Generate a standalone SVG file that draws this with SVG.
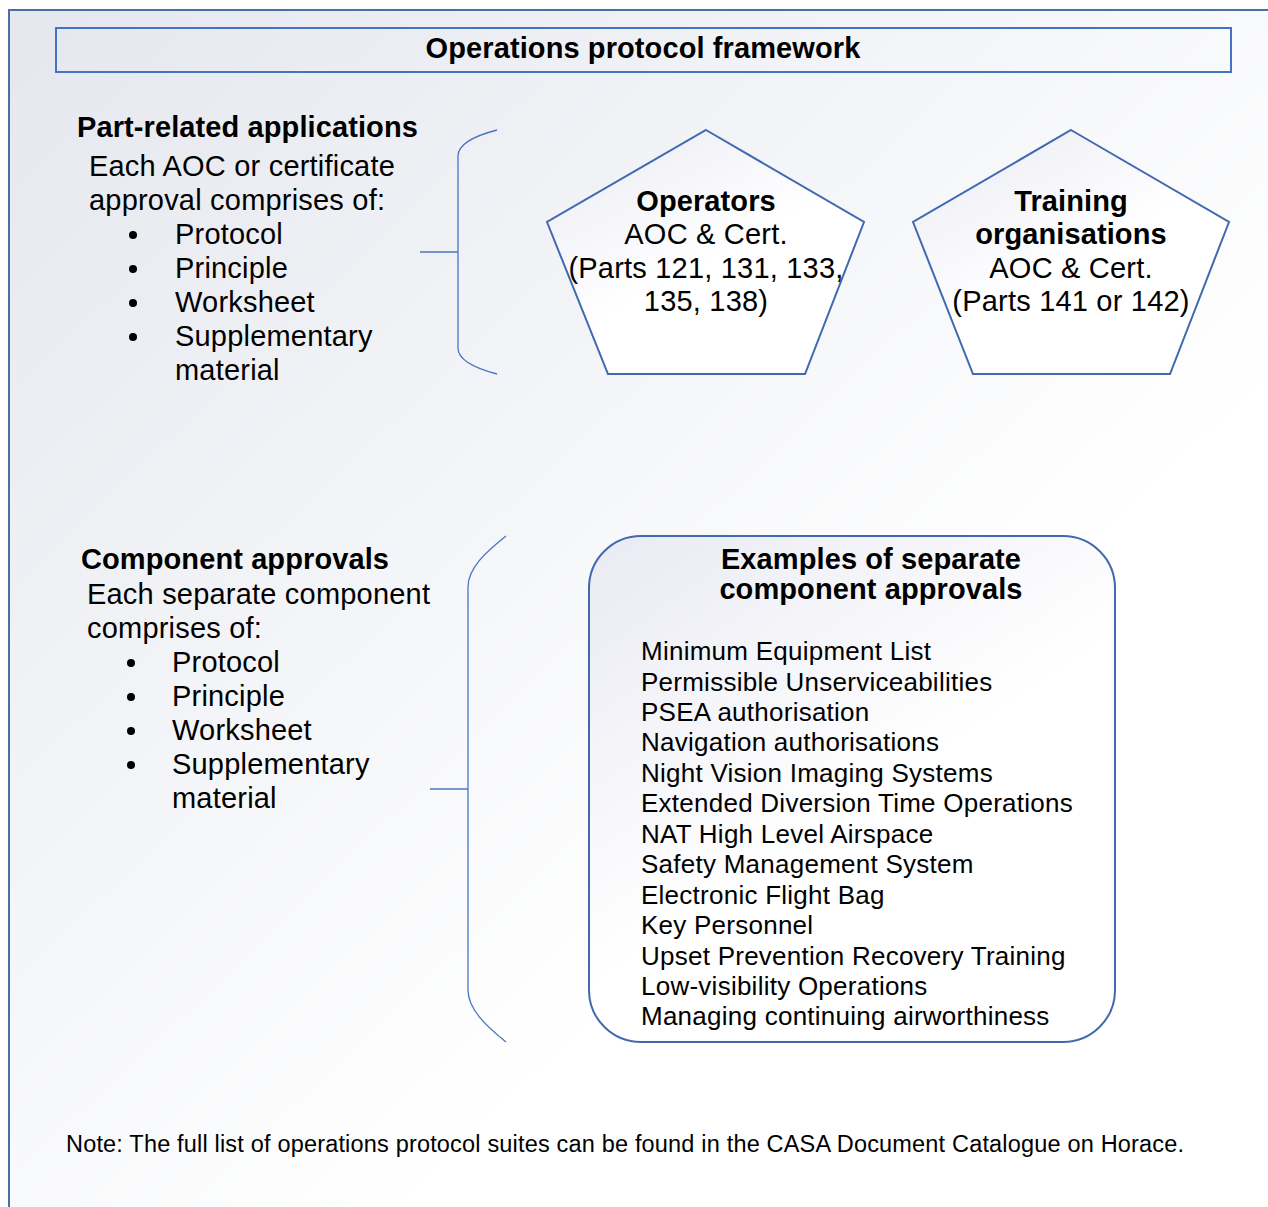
<svg xmlns="http://www.w3.org/2000/svg" width="1268" height="1207" viewBox="0 0 1268 1207">
  <defs>
    <linearGradient id="bg" x1="0" y1="0" x2="0.65" y2="0.65">
      <stop offset="0" stop-color="#e4e7ee"/>
      <stop offset="1" stop-color="#ffffff"/>
    </linearGradient>
    <linearGradient id="shapeFill" x1="0" y1="0" x2="0.7" y2="1">
      <stop offset="0" stop-color="#e9eaf3"/>
      <stop offset="0.6" stop-color="#ffffff"/>
    </linearGradient>
    <style>
      text { font-family: "Liberation Sans", Arial, sans-serif; fill: #000; }
      .h { font-size: 29px; font-weight: bold; letter-spacing: 0.1px; }
      .b { font-size: 29px; letter-spacing: 0.2px; }
      .c { text-anchor: middle; }
      .li { font-size: 26px; letter-spacing: 0.25px; }
      .note { font-size: 23.5px; letter-spacing: 0.18px; }
      .shape { fill: url(#shapeFill); stroke: #4169b0; stroke-width: 2; }
      .brace { fill: none; stroke: #4a74c4; stroke-width: 1.3; }
      .dot { fill: #000; }
    </style>
  </defs>

  <!-- page frame -->
  <rect x="0" y="0" width="1268" height="1207" fill="#ffffff"/>
  <rect x="9" y="10" width="1270" height="1210" fill="url(#bg)" stroke="#4a6fa5" stroke-width="2"/>

  <!-- title bar -->
  <g id="title">
    <rect x="56" y="28" width="1175" height="44" fill="none" stroke="#4472c4" stroke-width="2"/>
    <text class="h c" x="643" y="58">Operations protocol framework</text>
  </g>

  <!-- part-related applications -->
  <g id="part-related">
    <text class="h" x="77" y="137">Part-related applications</text>
    <text class="b" x="89" y="176">Each AOC or certificate</text>
    <text class="b" x="89" y="210">approval comprises of:</text>
    <circle class="dot" cx="133" cy="235" r="4"/>
    <circle class="dot" cx="133" cy="269" r="4"/>
    <circle class="dot" cx="133" cy="303" r="4"/>
    <circle class="dot" cx="133" cy="337" r="4"/>
    <text class="b" x="175" y="244">Protocol</text>
    <text class="b" x="175" y="278">Principle</text>
    <text class="b" x="175" y="312">Worksheet</text>
    <text class="b" x="175" y="346">Supplementary</text>
    <text class="b" x="175" y="380">material</text>
  </g>

  <!-- operators -->
  <g id="operators">
    <polygon class="shape" points="706,130 864,222 805,374 608,374 547,222"/>
    <text class="h c" x="706" y="211">Operators</text>
    <text class="b c" x="706" y="244">AOC &amp; Cert.</text>
    <text class="b c" x="706" y="278">(Parts 121, 131, 133,</text>
    <text class="b c" x="706" y="311">135, 138)</text>
  </g>

  <!-- training organisations -->
  <g id="training">
    <polygon class="shape" points="1071,130 1229,222 1170,374 973,374 913,222"/>
    <text class="h c" x="1071" y="211">Training</text>
    <text class="h c" x="1071" y="244">organisations</text>
    <text class="b c" x="1071" y="278">AOC &amp; Cert.</text>
    <text class="b c" x="1071" y="311">(Parts 141 or 142)</text>
  </g>

  <!-- component approvals -->
  <g id="component">
    <text class="h" x="81" y="569">Component approvals</text>
    <text class="b" x="87" y="604">Each separate component</text>
    <text class="b" x="87" y="638">comprises of:</text>
    <circle class="dot" cx="131" cy="663" r="4"/>
    <circle class="dot" cx="131" cy="697" r="4"/>
    <circle class="dot" cx="131" cy="731" r="4"/>
    <circle class="dot" cx="131" cy="765" r="4"/>
    <text class="b" x="172" y="672">Protocol</text>
    <text class="b" x="172" y="706">Principle</text>
    <text class="b" x="172" y="740">Worksheet</text>
    <text class="b" x="172" y="774">Supplementary</text>
    <text class="b" x="172" y="808">material</text>
  </g>

  <!-- examples of component approvals -->
  <g id="examples">
    <rect class="shape" x="589" y="536" width="526" height="506" rx="52" ry="52"/>
    <text class="h c" x="871" y="569">Examples of separate</text>
    <text class="h c" x="871" y="599">component approvals</text>
    <text class="li" x="641" y="660">Minimum Equipment List</text>
    <text class="li" x="641" y="691">Permissible Unserviceabilities</text>
    <text class="li" x="641" y="721">PSEA authorisation</text>
    <text class="li" x="641" y="751">Navigation authorisations</text>
    <text class="li" x="641" y="782">Night Vision Imaging Systems</text>
    <text class="li" x="641" y="812">Extended Diversion Time Operations</text>
    <text class="li" x="641" y="843">NAT High Level Airspace</text>
    <text class="li" x="641" y="873">Safety Management System</text>
    <text class="li" x="641" y="904">Electronic Flight Bag</text>
    <text class="li" x="641" y="934">Key Personnel</text>
    <text class="li" x="641" y="965">Upset Prevention Recovery Training</text>
    <text class="li" x="641" y="995">Low-visibility Operations</text>
    <text class="li" x="641" y="1025">Managing continuing airworthiness</text>
  </g>

  <!-- braces linking the lists to their groups -->
  <g id="connectors">
    <path class="brace" d="M497,130 C474,136 458,144 458,156 V348 C458,360 474,368 497,374"/>
    <path class="brace" d="M420,252 H458"/>
    <path class="brace" d="M506,536 C486,552 468,568 468,587 V990 C468,1009 486,1026 506,1042"/>
    <path class="brace" d="M430,789 H468"/>
  </g>

  <!-- footnote -->
  <text class="note" x="66" y="1152">Note: The full list of operations protocol suites can be found in the CASA Document Catalogue on Horace.</text>
</svg>
